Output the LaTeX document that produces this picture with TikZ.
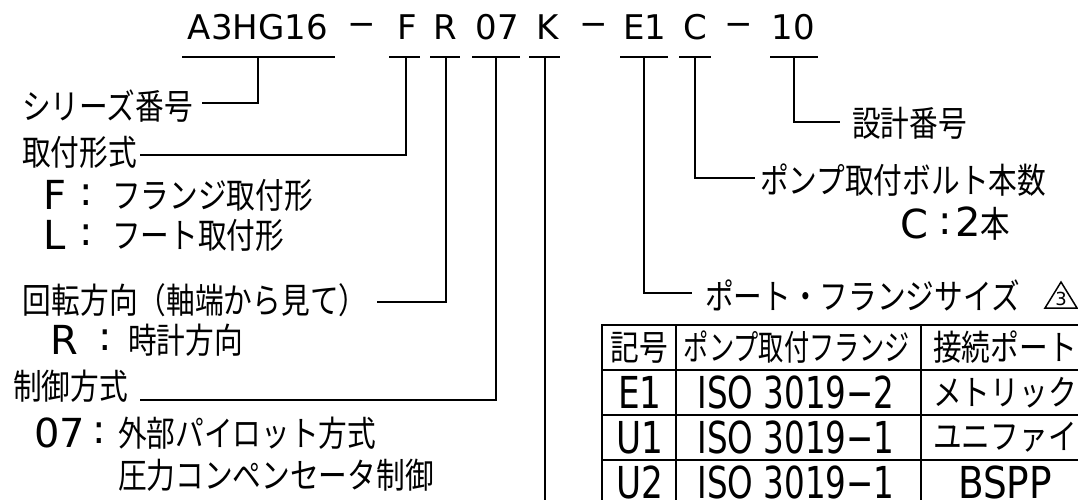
\documentclass[tikz,border=0pt]{standalone}
\usepackage{fontspec}
\setmainfont{Noto Sans CJK JP}
\newfontfamily\jp{Noto Sans CJK JP}
\newfontfamily\lat{DejaVu Sans}
\newcommand{\jn}[1]{\scalebox{0.82}[1]{#1}}
\tikzset{
  wire/.style={line width=1.5pt},
  jtxt/.style={inner sep=0pt, outer sep=0pt, anchor=west, font=\jp\fontsize{35}{40}\selectfont},
  ltxt/.style={inner sep=0pt, outer sep=0pt, anchor=west, font=\lat\fontsize{40}{46}\selectfont},
  ttl/.style={inner sep=0pt, outer sep=0pt, anchor=center, font=\lat\fontsize{34}{40}\selectfont},
  jcell/.style={inner sep=0pt, outer sep=0pt, anchor=center, font=\jp\fontsize{35}{40}\selectfont},
  lcell/.style={inner sep=0pt, outer sep=0pt, anchor=center, font=\lat\fontsize{44}{50}\selectfont},
}
\begin{document}
\begin{tikzpicture}[x=1pt,y=-1pt]
\useasboundingbox (0,0) rectangle (1078,500);
\clip (0,0) rectangle (1078,500);
\fill[white] (0,0) rectangle (1078,500);

% ---- title code ----
\node[ttl] (kA)  at (258,27.5)   {A3HG16};
\node[ttl] (m1)  at (361.5,29)   {−};
\node[ttl] (kF)  at (407.5,27.5) {F};
\node[ttl] (kR)  at (445,27.5)   {R};
\node[ttl] (k07) at (497.5,27.5) {07};
\node[ttl] (kK)  at (548,27.5)   {K};
\node[ttl] (m2)  at (593.5,29)   {−};
\node[ttl] (kE)  at (645,27.5)   {E1};
\node[ttl] (kC)  at (695,27.5)   {C};
\node[ttl] (m3)  at (738.5,29)   {−};
\node[ttl] (k10) at (793,27.5)   {10};

% underlines
\draw[wire] (182,57) -- (335,57);
\draw[wire] (389,57) -- (420,57);
\draw[wire] (430,57) -- (460,57);
\draw[wire] (472,57) -- (520,57);
\draw[wire] (529,57) -- (560,57);
\draw[wire] (620,57) -- (668,57);
\draw[wire] (679,57) -- (711,57);
\draw[wire] (770,57) -- (818,57);

% tick points
\coordinate (tA)  at (258,57);
\coordinate (tF)  at (406,57);
\coordinate (tR)  at (446,57);
\coordinate (t07) at (496,57);
\coordinate (tK)  at (545,57);
\coordinate (tE)  at (644,57);
\coordinate (tC)  at (695,57);
\coordinate (t10) at (794,57);

% ---- left labels ----
\node[jtxt] (s1) at (22,106) {\jn{シリーズ番号}};
\node[jtxt] (s2) at (22,152) {\jn{取付形式}};
\node[ltxt] (fF) at (43,195) {F};
\node[ltxt] (fc) at (79,195) {:};
\node[jtxt] (fT) at (112,195) {\jn{フランジ取付形}};
\node[ltxt] (lL) at (43,235) {L};
\node[ltxt] (lc) at (79,235) {:};
\node[jtxt] (lT) at (112,235) {\jn{フート取付形}};
\node[jtxt] (s3) at (23,300) {\jn{回転方向（軸端から見て）}};
\node[ltxt] (rR) at (50,340) {R};
\node[ltxt] (rc) at (98,340) {:};
\node[jtxt] (rT) at (128,340) {\jn{時計方向}};
\node[jtxt] (s4) at (13,386) {\jn{制御方式}};
\node[ltxt] (c07) at (34,433) {07};
\node[ltxt] (cc)  at (92,433) {:};
\node[jtxt] (cT1) at (118,433) {\jn{外部パイロット方式}};
\node[jtxt] (cT2) at (118,475) {\jn{圧力コンペンセータ制御}};

% ---- right labels ----
\node[jtxt] (d1) at (852,123) {\jn{設計番号}};
\node[jtxt] (d2) at (760,180) {\jn{ポンプ取付ボルト本数}};
\node[ltxt] (bC) at (900,224) {C};
\node[ltxt] (bc) at (938,224) {:};
\node[ltxt] (b2) at (955,224) {2\raisebox{-1pt}{\jp\fontsize{36}{40}\selectfont\jn{本}}};
\node[jtxt] (d3) at (705,295) {\jn{ポート・フランジサイズ}};
\draw[wire] (1045,308) -- (1061,282) -- (1077,308) -- cycle;
\node[inner sep=0pt, font=\lat\fontsize{18}{20}\selectfont] (rev) at (1061,299) {3};

% ---- connector end points ----
\coordinate (eA)  at (202,103);
\coordinate (eF)  at (140,155);
\coordinate (eR)  at (377,302);
\coordinate (e07) at (140,400);
\coordinate (eK)  at (545,520);
\coordinate (eE)  at (692,293);
\coordinate (eC)  at (755,178);
\coordinate (e10) at (840,122);

\draw[wire] (tA)  |- (eA);
\draw[wire] (tF)  |- (eF);
\draw[wire] (tR)  |- (eR);
\draw[wire] (t07) |- (e07);
\draw[wire] (tK)  -- (eK);
\draw[wire] (tE)  |- (eE);
\draw[wire] (tC)  |- (eC);
\draw[wire] (t10) |- (e10);

% ---- table ----
\draw[wire] (602,325) rectangle (1089,505);
\draw[wire] (602,370) -- (1089,370);
\draw[wire] (602,415) -- (1089,415);
\draw[wire] (602,460) -- (1089,460);
\draw[wire] (676,325) -- (676,505);
\draw[wire] (921,325) -- (921,505);

\node[jcell] (h1) at (639,347.5) {\jn{記号}};
\node[jcell] (h2) at (797,347.5) {\scalebox{0.72}[1]{ポンプ取付フランジ}};
\node[jcell] (h3) at (1005,347.5) {\jn{接続ポート}};

\node[lcell] (r1a) at (640,392.5) {\scalebox{0.78}[1]{E1}};
\node[lcell] (r1b) at (796,392.5) {\scalebox{0.74}[1]{ISO 3019−2}};
\node[jcell] (r1c) at (1005,392.5) {\jn{メトリック}};

\node[lcell] (r2a) at (640,437.5) {\scalebox{0.78}[1]{U1}};
\node[lcell] (r2b) at (796,437.5) {\scalebox{0.74}[1]{ISO 3019−1}};
\node[jcell] (r2c) at (1005,437.5) {\jn{ユニファイ}};

\node[lcell] (r3a) at (640,482.5) {\scalebox{0.78}[1]{U2}};
\node[lcell] (r3b) at (796,482.5) {\scalebox{0.74}[1]{ISO 3019−1}};
\node[lcell] (r3c) at (1005,482.5) {\scalebox{0.85}[1]{BSPP}};
\end{tikzpicture}
\end{document}
